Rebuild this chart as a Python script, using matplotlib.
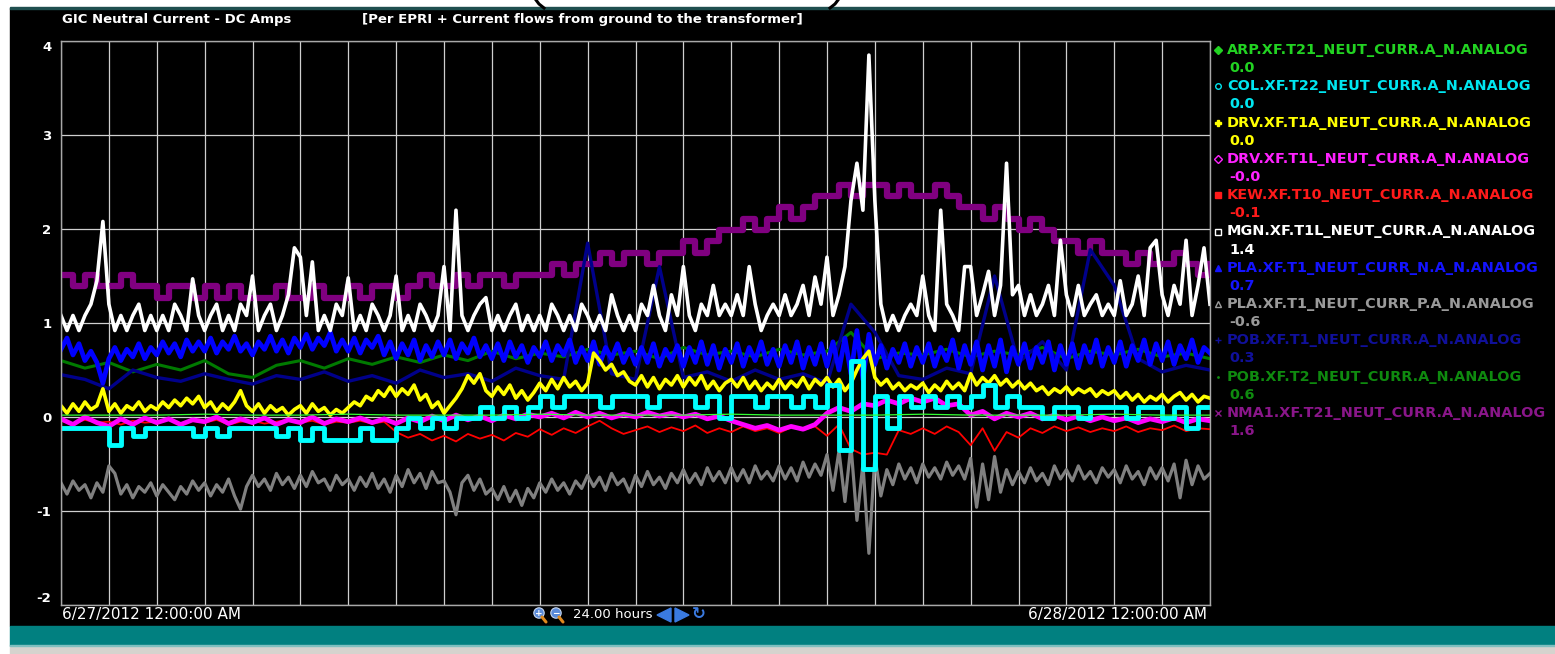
import numpy as np
import matplotlib.pyplot as plt
from matplotlib.patches import Rectangle, Circle, Polygon

# ==================================================
# GIC中性点電流（DC） 24時間トレンド画面の再現
# ==================================================

W, H = 1555, 654

# 時刻軸（時間）
hours_e = np.arange(193) * 0.125  # 7.5分刻み
hours_q = np.arange(97) * 0.25    # 15分刻み
hours_h = np.arange(49) * 0.5     # 30分刻み
hours_1 = np.arange(25) * 1.0     # 1時間刻み

# ---------------- データ（画面から目読み） ----------------
nma1_t21 = [1.51, 1.39, 1.51, 1.39, 1.39, 1.51, 1.39, 1.39,
            1.27, 1.39, 1.39, 1.27, 1.39, 1.27, 1.39, 1.27,
            1.27, 1.27, 1.39, 1.27, 1.27, 1.39, 1.27, 1.27,
            1.39, 1.27, 1.39, 1.39, 1.27, 1.39, 1.51, 1.39,
            1.39, 1.51, 1.39, 1.51, 1.51, 1.39, 1.51, 1.51,
            1.51, 1.63, 1.51, 1.63, 1.63, 1.75, 1.63, 1.75,
            1.75, 1.63, 1.75, 1.75, 1.87, 1.75, 1.87, 1.99,
            1.99, 2.11, 1.99, 2.11, 2.23, 2.11, 2.23, 2.35,
            2.35, 2.47, 2.35, 2.47, 2.47, 2.35, 2.47, 2.35,
            2.35, 2.47, 2.35, 2.23, 2.23, 2.11, 2.23, 2.11,
            1.99, 2.11, 1.99, 1.87, 1.87, 1.75, 1.87, 1.75,
            1.75, 1.63, 1.75, 1.63, 1.63, 1.75, 1.63, 1.51, 1.63]

pob_t2 = [0.60, 0.52, 0.58, 0.48, 0.56, 0.50, 0.60, 0.46, 0.42, 0.55,
          0.60, 0.52, 0.62, 0.56, 0.64, 0.58, 0.66, 0.60, 0.70, 0.62,
          0.68, 0.64, 0.72, 0.66, 0.70, 0.62, 0.74, 0.66, 0.70, 0.64,
          0.72, 0.66, 0.70, 0.90, 0.62, 0.68, 0.66, 0.72, 0.64, 0.70,
          0.66, 0.74, 0.62, 0.70, 0.66, 0.72, 0.64, 0.68, 0.62]

pob_t1 = [0.45, 0.40, 0.30, 0.50, 0.42, 0.38, 0.46, 0.40, 0.35, 0.44,
          0.40, 0.48, 0.38, 0.44, 0.36, 0.50, 0.42, 0.46, 0.38, 0.52,
          0.44, 0.40, 1.85, 0.46, 0.40, 1.60, 0.42, 0.48, 0.38, 0.50,
          0.40, 0.46, 0.36, 1.20, 0.90, 0.44, 0.40, 0.52, 0.46, 1.50,
          0.58, 0.80, 0.50, 1.78, 1.40, 0.62, 0.48, 0.55, 0.50]

pla_p = [-0.70, -0.82, -0.68, -0.78, -0.72, -0.86, -0.70, -0.80,
         -0.52, -0.60, -0.82, -0.72, -0.86, -0.74, -0.80, -0.70,
         -0.84, -0.72, -0.80, -0.88, -0.74, -0.82, -0.68, -0.78,
         -0.70, -0.84, -0.72, -0.80, -0.66, -0.84, -0.98, -0.74,
         -0.62, -0.74, -0.66, -0.78, -0.60, -0.72, -0.64, -0.76,
         -0.62, -0.74, -0.58, -0.70, -0.66, -0.78, -0.62, -0.72,
         -0.66, -0.78, -0.64, -0.74, -0.60, -0.76, -0.66, -0.80,
         -0.62, -0.74, -0.56, -0.70, -0.60, -0.76, -0.58, -0.70,
         -0.68, -0.80, -1.04, -0.70, -0.62, -0.78, -0.66, -0.82,
         -0.76, -0.88, -0.74, -0.90, -0.78, -0.94, -0.76, -0.86,
         -0.70, -0.80, -0.66, -0.78, -0.70, -0.82, -0.68, -0.76,
         -0.62, -0.74, -0.64, -0.78, -0.60, -0.72, -0.66, -0.80,
         -0.62, -0.74, -0.58, -0.72, -0.64, -0.76, -0.60, -0.70,
         -0.56, -0.70, -0.60, -0.72, -0.54, -0.68, -0.58, -0.70,
         -0.54, -0.68, -0.56, -0.70, -0.52, -0.66, -0.58, -0.68,
         -0.52, -0.66, -0.54, -0.68, -0.48, -0.64, -0.50, -0.62,
         -0.40, -0.78, -0.36, -0.90, -0.30, -1.10, -0.50, -1.45,
         -0.42, -0.84, -0.56, -0.72, -0.50, -0.66, -0.54, -0.70,
         -0.50, -0.64, -0.54, -0.66, -0.48, -0.62, -0.52, -0.66,
         -0.44, -0.96, -0.50, -0.88, -0.42, -0.80, -0.56, -0.72,
         -0.58, -0.70, -0.54, -0.68, -0.60, -0.72, -0.52, -0.66,
         -0.56, -0.68, -0.52, -0.66, -0.58, -0.70, -0.54, -0.64,
         -0.56, -0.70, -0.52, -0.66, -0.58, -0.72, -0.54, -0.66,
         -0.54, -0.68, -0.50, -0.86, -0.46, -0.72, -0.52, -0.66,
         -0.60]

pla_n = [0.72, 0.84, 0.66, 0.78, 0.60, 0.70, 0.58, 0.36,
         0.62, 0.74, 0.60, 0.72, 0.64, 0.78, 0.62, 0.74,
         0.66, 0.80, 0.68, 0.78, 0.64, 0.82, 0.70, 0.80,
         0.70, 0.84, 0.68, 0.80, 0.72, 0.86, 0.70, 0.78,
         0.66, 0.80, 0.72, 0.86, 0.70, 0.82, 0.68, 0.84,
         0.74, 0.88, 0.72, 0.84, 0.76, 0.90, 0.70, 0.82,
         0.70, 0.84, 0.68, 0.82, 0.74, 0.86, 0.66, 0.80,
         0.62, 0.78, 0.66, 0.82, 0.60, 0.76, 0.64, 0.80,
         0.66, 0.82, 0.62, 0.78, 0.68, 0.84, 0.64, 0.76,
         0.62, 0.78, 0.60, 0.80, 0.64, 0.76, 0.58, 0.74,
         0.64, 0.80, 0.60, 0.76, 0.66, 0.82, 0.58, 0.74,
         0.60, 0.80, 0.56, 0.74, 0.62, 0.78, 0.58, 0.72,
         0.56, 0.74, 0.58, 0.78, 0.54, 0.72, 0.60, 0.76,
         0.54, 0.74, 0.58, 0.80, 0.56, 0.76, 0.52, 0.72,
         0.58, 0.78, 0.54, 0.74, 0.60, 0.80, 0.56, 0.72,
         0.54, 0.76, 0.58, 0.80, 0.52, 0.74, 0.56, 0.78,
         0.54, 0.80, 0.50, 0.84, 0.46, 0.92, 0.40, 0.88,
         0.56, 0.76, 0.52, 0.72, 0.58, 0.78, 0.54, 0.74,
         0.58, 0.78, 0.54, 0.74, 0.60, 0.82, 0.52, 0.76,
         0.56, 0.80, 0.50, 0.76, 0.54, 0.82, 0.48, 0.74,
         0.56, 0.78, 0.52, 0.74, 0.58, 0.80, 0.50, 0.76,
         0.56, 0.78, 0.52, 0.76, 0.58, 0.82, 0.54, 0.74,
         0.58, 0.80, 0.54, 0.76, 0.60, 0.82, 0.56, 0.78,
         0.60, 0.80, 0.56, 0.76, 0.62, 0.82, 0.58, 0.74,
         0.68]

mgn_t1l = [1.08, 0.92, 1.08, 0.92, 1.08, 1.20, 1.45, 2.08,
           1.20, 0.92, 1.08, 0.92, 1.08, 1.20, 0.92, 1.08,
           0.92, 1.08, 0.92, 1.20, 1.08, 0.92, 1.47, 1.08,
           0.92, 1.08, 1.20, 0.92, 1.08, 0.92, 1.20, 1.08,
           1.50, 0.92, 1.08, 1.20, 0.92, 1.08, 1.30, 1.80,
           1.70, 1.08, 1.65, 0.92, 1.08, 0.92, 1.20, 1.08,
           1.48, 0.92, 1.08, 0.92, 1.20, 1.08, 0.92, 1.08,
           1.50, 0.92, 1.08, 0.92, 1.20, 1.08, 0.92, 1.08,
           1.60, 0.92, 2.20, 1.08, 0.92, 1.08, 1.20, 1.27,
           0.92, 1.08, 0.92, 1.08, 1.20, 0.92, 1.08, 0.92,
           1.08, 0.92, 1.20, 1.08, 0.92, 1.08, 0.92, 1.20,
           1.08, 0.92, 1.08, 0.92, 1.30, 1.08, 0.92, 1.08,
           0.92, 1.20, 1.08, 1.40, 1.08, 0.92, 1.30, 1.08,
           1.60, 1.08, 0.92, 1.20, 1.08, 1.40, 1.08, 1.20,
           1.08, 1.30, 1.08, 1.60, 1.20, 0.92, 1.08, 1.20,
           1.08, 1.30, 1.08, 1.20, 1.40, 1.08, 1.49, 1.20,
           1.70, 1.08, 1.30, 1.60, 2.30, 2.70, 2.20, 3.85,
           2.30, 1.20, 0.92, 1.08, 0.92, 1.08, 1.20, 1.08,
           1.50, 1.08, 0.92, 2.20, 1.20, 1.08, 0.92, 1.60,
           1.60, 1.08, 1.30, 1.55, 1.08, 1.40, 2.70, 1.30,
           1.40, 1.08, 1.30, 1.08, 1.20, 1.40, 1.08, 1.88,
           1.30, 1.08, 1.40, 1.08, 1.20, 1.30, 1.08, 1.20,
           1.08, 1.45, 1.08, 1.20, 1.50, 1.08, 1.80, 1.88,
           1.30, 1.08, 1.40, 1.20, 1.88, 1.08, 1.40, 1.80,
           1.20]

kew_t10 = [-0.04, -0.07, -0.03, -0.06, -0.05, -0.08, -0.04, -0.06,
           -0.05, -0.03, -0.07, -0.04, -0.06, -0.03, -0.08, -0.05,
           -0.04, -0.07, -0.05, -0.03, -0.06, -0.04, -0.08, -0.05,
           -0.06, -0.04, -0.07, -0.05, -0.16, -0.22, -0.18, -0.25,
           -0.20, -0.26, -0.18, -0.23, -0.19, -0.25, -0.17, -0.21,
           -0.13, -0.19, -0.12, -0.17, -0.10, -0.04, -0.12, -0.18,
           -0.14, -0.10, -0.16, -0.11, -0.15, -0.09, -0.17, -0.12,
           -0.16, -0.10, -0.15, -0.12, -0.17, -0.11, -0.14, -0.10,
           -0.20, -0.08, -0.34, -0.40, -0.38, -0.40, -0.14, -0.18,
           -0.12, -0.18, -0.10, -0.16, -0.30, -0.12, -0.36, -0.16,
           -0.22, -0.12, -0.17, -0.10, -0.15, -0.11, -0.16, -0.12,
           -0.15, -0.10, -0.16, -0.12, -0.14, -0.09, -0.15, -0.12, -0.13]

drv_t1l = [-0.02, -0.08, 0.00, -0.06, -0.10, -0.02, -0.08, -0.01,
           -0.06, -0.02, -0.08, -0.03, -0.05, 0.00, -0.07, -0.02,
           -0.06, -0.01, -0.08, -0.03, -0.06, 0.00, -0.07, -0.02,
           -0.05, -0.01, -0.06, -0.02, -0.07, -0.01, -0.05, 0.01,
           -0.04, 0.02, -0.03, 0.01, -0.04, 0.02, -0.02, 0.03,
           0.00, 0.04, -0.01, 0.05, 0.00, 0.04, -0.01, 0.03,
           0.00, 0.05, 0.01, 0.04, 0.00, 0.03, -0.02, 0.01,
           -0.04, -0.08, -0.12, -0.09, -0.14, -0.10, -0.13, -0.08,
           0.04, 0.10, 0.06, 0.14, 0.12, 0.18, 0.14, 0.20,
           0.16, 0.20, 0.12, 0.14, 0.02, 0.06, -0.02, 0.04,
           0.00, 0.04, -0.02, 0.02, -0.03, 0.01, -0.04, 0.00,
           -0.04, -0.01, -0.06, -0.02, -0.05, -0.01, -0.06, -0.02, -0.04]

drv_t1a = [0.12, 0.04, 0.14, 0.06, 0.16, 0.08, 0.12, 0.30,
           0.06, 0.14, 0.04, 0.12, 0.08, 0.16, 0.06, 0.12,
           0.08, 0.16, 0.10, 0.18, 0.12, 0.20, 0.14, 0.22,
           0.10, 0.16, 0.06, 0.14, 0.08, 0.16, 0.28, 0.12,
           0.06, 0.14, 0.04, 0.12, 0.06, 0.10, 0.02, 0.08,
           0.12, 0.04, 0.14, 0.06, 0.10, 0.02, 0.08, 0.04,
           0.10, 0.16, 0.12, 0.22, 0.18, 0.28, 0.22, 0.32,
           0.22, 0.30, 0.24, 0.34, 0.18, 0.24, 0.10, 0.16,
           0.04, 0.12, 0.20, 0.30, 0.44, 0.36, 0.46, 0.28,
           0.22, 0.32, 0.24, 0.34, 0.20, 0.28, 0.18, 0.26,
           0.36, 0.28, 0.40, 0.30, 0.42, 0.32, 0.38, 0.28,
           0.36, 0.68, 0.60, 0.50, 0.56, 0.44, 0.48, 0.38,
           0.34, 0.44, 0.32, 0.42, 0.30, 0.40, 0.34, 0.44,
           0.32, 0.42, 0.34, 0.44, 0.30, 0.38, 0.28, 0.36,
           0.40, 0.32, 0.42, 0.30, 0.38, 0.28, 0.36, 0.30,
           0.40, 0.30, 0.38, 0.32, 0.42, 0.30, 0.40, 0.34,
           0.42, 0.32, 0.40, 0.28, 0.36, 0.50, 0.62, 0.70,
           0.42, 0.34, 0.40, 0.30, 0.36, 0.28, 0.34, 0.30,
           0.36, 0.26, 0.34, 0.28, 0.38, 0.30, 0.36, 0.28,
           0.46, 0.34, 0.42, 0.36, 0.44, 0.34, 0.40, 0.32,
           0.38, 0.30, 0.36, 0.28, 0.32, 0.24, 0.30, 0.26,
           0.32, 0.24, 0.30, 0.26, 0.30, 0.22, 0.28, 0.24,
           0.28, 0.20, 0.26, 0.18, 0.24, 0.16, 0.22, 0.18,
           0.24, 0.16, 0.22, 0.26, 0.18, 0.24, 0.16, 0.22,
           0.20]

col_t22 = [-0.12, -0.12, -0.12, -0.12, -0.30, -0.12, -0.20, -0.12,
           -0.12, -0.12, -0.12, -0.20, -0.12, -0.20, -0.12, -0.12,
           -0.12, -0.12, -0.20, -0.12, -0.24, -0.12, -0.24, -0.24,
           -0.24, -0.12, -0.24, -0.24, -0.12, -0.01, -0.12, -0.01,
           -0.12, -0.01, -0.01, 0.11, -0.01, 0.11, -0.01, 0.11,
           0.22, 0.11, 0.22, 0.22, 0.22, 0.11, 0.22, 0.22,
           0.22, 0.11, 0.22, 0.22, 0.22, 0.11, 0.22, -0.01,
           0.22, 0.22, 0.11, 0.22, 0.22, 0.11, 0.22, 0.11,
           0.34, -0.35, 0.60, -0.55, 0.22, -0.12, 0.22, 0.11,
           0.22, 0.11, 0.22, 0.11, 0.22, 0.34, 0.11, 0.22,
           0.11, 0.11, -0.01, 0.11, 0.11, -0.01, 0.11, 0.11,
           0.11, -0.01, 0.11, 0.11, -0.01, 0.11, -0.12, 0.11, 0.11]

arp_t21 = [0.02, 0.02, 0.02, 0.03, 0.02, 0.02, 0.03, 0.02, 0.02, 0.02,
           0.03, 0.02, 0.02, 0.02, 0.03, 0.02, 0.02, 0.02, 0.03, 0.02,
           0.02, 0.02, 0.03, 0.02, 0.02]

# 凡例（タグ名・現在値・色・記号）
tag_names = ["ARP.XF.T21_NEUT_CURR.A_N.ANALOG",
             "COL.XF.T22_NEUT_CURR.A_N.ANALOG",
             "DRV.XF.T1A_NEUT_CURR.A_N.ANALOG",
             "DRV.XF.T1L_NEUT_CURR.A_N.ANALOG",
             "KEW.XF.T10_NEUT_CURR.A_N.ANALOG",
             "MGN.XF.T1L_NEUT_CURR.A_N.ANALOG",
             "PLA.XF.T1_NEUT_CURR_N.A_N.ANALOG",
             "PLA.XF.T1_NEUT_CURR_P.A_N.ANALOG",
             "POB.XF.T1_NEUT_CURR.A_N.ANALOG",
             "POB.XF.T2_NEUT_CURR.A_N.ANALOG",
             "NMA1.XF.T21_NEUT_CURR.A_N.ANALOG"]
tag_values = ["0.0", "0.0", "0.0", "-0.0", "-0.1", "1.4", "0.7", "-0.6", "0.3", "0.6", "1.6"]
tag_colors = ["#22d322", "#00e6f0", "#ffff00", "#ff22ff", "#ff1a1a", "#ffffff",
              "#1414ff", "#9a9a9a", "#10109a", "#0f8a0f", "#8a168a"]
line_colors = ["#33ff33", "#00ffff", "#ffff00", "#ff00ff", "#ff0000", "#ffffff",
               "#0000ff", "#808080", "#00008b", "#007a00", "#800080"]
line_widths = [0.9, 3.5, 2.6, 3.4, 1.3, 2.6, 3.4, 2.3, 2.4, 2.2, 4.5]
# COL・NMA1 は量子化された値なので階段状に描く
line_styles = ["default", "steps-post", "default", "default", "default", "default",
               "default", "default", "default", "default", "steps-post"]
tag_markers = [("D", True), ("o", False), ("P", True), ("D", False), ("s", True), ("s", False),
               ("^", True), ("^", False), ("+", True), (".", True), ("x", True)]

# ---------------- 描画 ----------------
fig = plt.figure(figsize=(W / 100, H / 100), dpi=100)
fig.patch.set_facecolor("white")

# 背景（黒い画面、下部のティール帯とグレー帯）
bg = fig.add_axes([0, 0, 1, 1], zorder=0)
bg.set_xlim(0, W)
bg.set_ylim(H, 0)
bg.axis("off")
bg.add_patch(Rectangle((10, 8), W - 10, 618, color="black"))
bg.add_patch(Rectangle((10, 7), W - 10, 2, color="#1f4f4f"))
bg.add_patch(Rectangle((10, 626), W - 10, 20, color="#018080"))
bg.add_patch(Rectangle((10, 646), W - 10, 8, color="#d6d3ce"))
bg.add_patch(Rectangle((10, 645), W - 10, 1, color="#7fbfbf"))
# 上端で切れている見出しの括弧（下端だけ見えている）
bg.plot([536, 539, 544], [0, 4, 8], color="black", lw=2.2)
bg.plot([838, 835, 830], [0, 4, 8], color="black", lw=2.2)

# メインのトレンド領域
ax = fig.add_axes([61 / W, 1 - 605 / H, (1210 - 61) / W, (605 - 41) / H], zorder=1)
ax.set_facecolor("black")

series = [nma1_t21, pob_t2, pob_t1, pla_p, pla_n, mgn_t1l, kew_t10, drv_t1l, drv_t1a, col_t22, arp_t21]
order = list(range(len(tag_names)))[::-1]   # 凡例の逆順で重ねる
x_by_len = {193: hours_e, 97: hours_q, 49: hours_h, 25: hours_1}
for k, vals in zip(order, series):
    xs = x_by_len[len(vals)]
    ax.plot(xs, vals, color=line_colors[k], lw=line_widths[k], drawstyle=line_styles[k])

ax.set_xlim(0, 24)
ax.set_ylim(-2, 4)
ax.set_xticks(np.arange(0, 25, 1))
ax.set_xticklabels([])
ax.set_yticks(np.arange(-2, 5, 1))
ax.set_yticklabels(["-2", "-1", "0", "1", "2", "3", "4"])
ax.tick_params(length=0, colors="white", labelsize=9.5, pad=7)
for lbl in ax.get_yticklabels():
    lbl.set_fontweight("bold")
ax.get_yticklabels()[0].set_va("bottom")
ax.get_yticklabels()[-1].set_va("top")
ax.grid(True, color="#cfcfcf", lw=0.9)
ax.set_axisbelow(True)
for sp in ax.spines.values():
    sp.set_color("#a8a8a8")
    sp.set_linewidth(1.0)

# 文字・アイコン用のオーバーレイ（ピクセル座標）
ov = fig.add_axes([0, 0, 1, 1], zorder=2)
ov.set_xlim(0, W)
ov.set_ylim(H, 0)
ov.axis("off")

ov.text(62, 20, "GIC Neutral Current - DC Amps", color="white", fontsize=9.5,
        fontweight="bold", va="center", ha="left")
ov.text(362, 20, "[Per EPRI + Current flows from ground to the transformer]", color="white",
        fontsize=9.5, fontweight="bold", va="center", ha="left")

# 凡例
for k in range(len(tag_names)):
    y = 50 + 36.3 * k
    mk, filled = tag_markers[k]
    ov.plot(1218, y, marker=mk, ms=4 if mk != "." else 2, color=tag_colors[k],
            mfc=tag_colors[k] if filled else "none", mew=1.0)
    ov.text(1227, y, tag_names[k], color=tag_colors[k], fontsize=10.4, fontweight="bold",
            va="center", ha="left")
    ov.text(1229, y + 18, tag_values[k], color=tag_colors[k], fontsize=10.4, fontweight="bold",
            va="center", ha="left")

# 下部の日時とナビゲーション
ov.text(62, 615, "6/27/2012 12:00:00 AM", color="white", fontsize=11, va="center", ha="left")
ov.text(1207, 615, "6/28/2012 12:00:00 AM", color="white", fontsize=11, va="center", ha="right")
for cx, sign in ((539, "+"), (556, "−")):
    ov.plot([cx + 3, cx + 7], [617, 622], color="#e08a1e", lw=2.2, solid_capstyle="round")
    ov.add_patch(Circle((cx, 613), 5.2, facecolor="#5a8ad8", edgecolor="#c8d8f0", lw=0.8))
    ov.text(cx, 613, sign, color="white", fontsize=6.5, fontweight="bold", va="center", ha="center")
ov.text(573, 615, "24.00 hours", color="white", fontsize=9.5, va="center", ha="left")
ov.add_patch(Polygon([[657, 615], [671, 608], [671, 622]], closed=True, color="#3a7ae0"))
ov.add_patch(Polygon([[675, 608], [675, 622], [689, 615]], closed=True, color="#3a7ae0"))
ov.text(699, 614, "↻", color="#3a7ae0", fontsize=12, fontweight="bold", va="center", ha="center")

plt.savefig("out.png", dpi=100, facecolor=fig.get_facecolor())
plt.close()
